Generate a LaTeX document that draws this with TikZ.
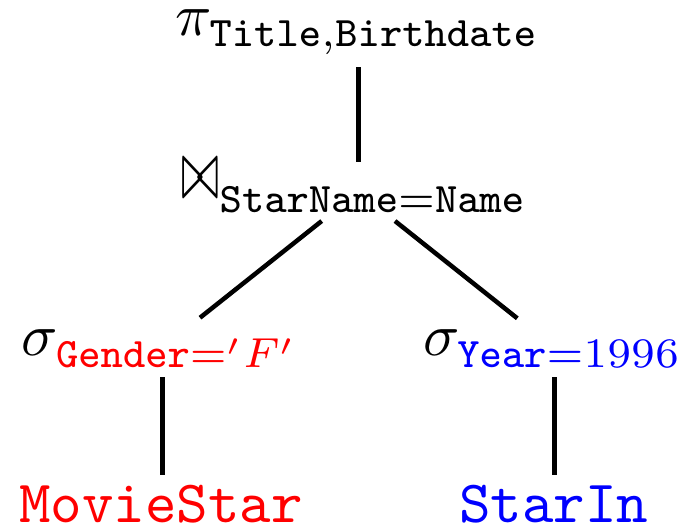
\documentclass[tikz,border=0pt]{standalone}
\usepackage{graphicx}
\usetikzlibrary{calc}
\newcommand{\substrut}{\rule{0pt}{5.44pt}}
\newcommand{\joinstrut}{\rule{0pt}{5.84pt}}
\newcommand{\tallbowtie}{\scalebox{0.76}[1.4]{$\bowtie$}}
\begin{document}
\begin{tikzpicture}[x=0.16667pt,y=-0.16667pt,
  lbl/.style={anchor=base,inner sep=0pt,outer sep=0pt},
  edge/.style={line width=0.75pt,black}]
\useasboundingbox (0,0) rectangle (690,527);
\node[lbl] (p) at (357.3,35) {$\pi_{\substrut\mathtt{Title},\mathtt{Birthdate}}$};
\node[lbl] (j) at (354.5,198) {$\mathrel{\tallbowtie}_{\joinstrut\mathtt{StarName}=\mathtt{Name}}$};
\node[lbl] (sl) at (160.5,355) {$\sigma_{\substrut\color{red}\mathtt{Gender}='F'}$};
\node[lbl] (sr) at (552.5,355) {$\sigma_{\substrut\color{blue}\mathtt{Year}=1996}$};
\node[lbl,text=red] (m) at (161,522) {\texttt{MovieStar}};
\node[lbl,text=blue] (s) at (553.5,522) {\texttt{StarIn}};
\draw[edge] ($(p.base)+(1.4,32)$) -- ($(j.base)+(4.2,-36)$);
\draw[edge] ($(j.base)+(-32.8,23)$) -- ($(sl.base)+(39.5,-37.3)$);
\draw[edge] ($(j.base)+(40.5,23)$) -- ($(sr.base)+(-35.2,-36.7)$);
\draw[edge] ($(sl.base)+(1.8,22)$) -- ($(m.base)+(1.3,-47)$);
\draw[edge] ($(sr.base)+(1.8,22)$) -- ($(s.base)+(0.8,-47)$);
\end{tikzpicture}
\end{document}
